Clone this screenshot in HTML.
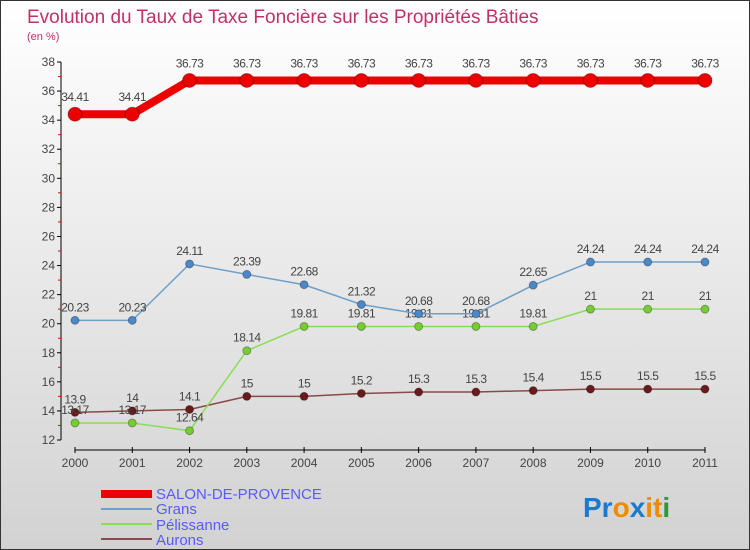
<!DOCTYPE html>
<html><head><meta charset="utf-8"><style>
body{margin:0}
#wrap{width:750px;height:550px;position:relative;box-sizing:border-box;border:1px solid #333;background:linear-gradient(#ffffff,#d2d2d2);font-family:"Liberation Sans",sans-serif;overflow:hidden}
</style></head><body>
<div id="wrap">
<svg id="c" width="748" height="548" xmlns="http://www.w3.org/2000/svg">
<text x="26" y="22" font-size="19" fill="#c0306a">Evolution du Taux de Taxe Foncière sur les Propriétés Bâties</text>
<text x="26" y="39" font-size="11" fill="#c0306a">(en %)</text>
<g id="axes"></g><g id="series"></g>
<g>
<rect x="100" y="489" width="51" height="8" fill="#e00"/>
<text x="155" y="498" font-size="15" fill="#5a5aff">SALON-DE-PROVENCE</text>
<rect x="100" y="507" width="51" height="2" fill="#6fa0c8"/>
<text x="155" y="513" font-size="15" fill="#5a5aff">Grans</text>
<rect x="100" y="522" width="51" height="2" fill="#88dd55"/>
<text x="155" y="529" font-size="15" fill="#5a5aff">Pélissanne</text>
<rect x="100" y="537" width="51" height="2" fill="#8a4a4a"/>
<text x="155" y="544" font-size="15" fill="#5a5aff">Aurons</text>
</g>
<text x="582" y="516" font-size="28" font-weight="bold"><tspan fill="#1a7ad0">Pr</tspan><tspan fill="#f08a00">o</tspan><tspan fill="#1a7ad0">x</tspan><tspan fill="#f08a00">i</tspan><tspan fill="#f08a00">t</tspan><tspan fill="#2a9a3a">i</tspan></text>
</svg></div>
<script>
const years=["2000","2001","2002","2003","2004","2005","2006","2007","2008","2009","2010","2011"];
const yTicks=[12,14,16,18,20,22,24,26,28,30,32,34,36,38];
const salon=[34.41,34.41,36.73,36.73,36.73,36.73,36.73,36.73,36.73,36.73,36.73,36.73];
const grans=[20.23,20.23,24.11,23.39,22.68,21.32,20.68,20.68,22.65,24.24,24.24,24.24];
const pelissanne=[13.17,13.17,12.64,18.14,19.81,19.81,19.81,19.81,19.81,21,21,21];
const aurons=[13.9,14,14.1,15,15,15.2,15.3,15.3,15.4,15.5,15.5,15.5];
const NS="http://www.w3.org/2000/svg";
const X=i=>74+i*(630/11);
const Y=v=>439-(v-12)*(378/26);
function mk(t,a,p){const e=document.createElementNS(NS,t);for(const k in a)e.setAttribute(k,a[k]);p.appendChild(e);return e;}
const ax=document.getElementById('axes');
const yl=mk('line',{x1:60,y1:Y(38),x2:60,y2:Y(12),stroke:'#000'},ax);


yTicks.forEach(v=>{
 mk('line',{x1:56,y1:Y(v),x2:60,y2:Y(v),stroke:'#000'},ax);
 if(v<38) mk('line',{x1:57,y1:Y(v+1),x2:60,y2:Y(v+1),stroke:'#e00'},ax);
 const t=mk('text',{x:54,y:Y(v)+4,'font-size':12,fill:'#444','text-anchor':'end'},ax);
 t.textContent=v;
 
 
});
const xl=mk('line',{x1:X(0),y1:449,x2:X(11),y2:449,stroke:'#000'},ax);


years.forEach((y,i)=>{
 mk('line',{x1:X(i),y1:446,x2:X(i),y2:452,stroke:'#000'},ax);
 const t=mk('text',{x:X(i),y:466,'font-size':12,fill:'#444','text-anchor':'middle'},ax);
 t.textContent=y;
 
 
});
const sg=document.getElementById('series');
function draw(data,name,col,dot,w,r,labOff){
 const g=mk('g',{},sg);
 
 
 const pl=mk('polyline',{points:data.map((v,i)=>X(i)+','+Y(v)).join(' '),fill:'none',stroke:col,'stroke-width':w,'stroke-linejoin':'round'},g);
 
 
 data.forEach((v,i)=>{
  const c=mk('circle',{cx:X(i),cy:Y(v),r:r,fill:dot,stroke:'rgba(0,0,0,0.3)'},g);
  
  
  const t=mk('text',{x:X(i),y:Y(v)+labOff,'font-size':12,fill:'#444','text-anchor':'middle','letter-spacing':'-0.5'},g);
  t.textContent=String(v).replace('.','.');
  
  
 });
}
draw(aurons,'aurons','#8a4a4a','#6a1a1a',1.5,4,-9);
draw(pelissanne,'pelissanne','#88dd55','#77cc33',1.5,4,-9);
draw(grans,'grans','#6fa0c8','#4a88c8',1.5,4,-9);
draw(salon,'salon','#ee0000','#ee0000',8,7,-13);
</script>
</body></html>
